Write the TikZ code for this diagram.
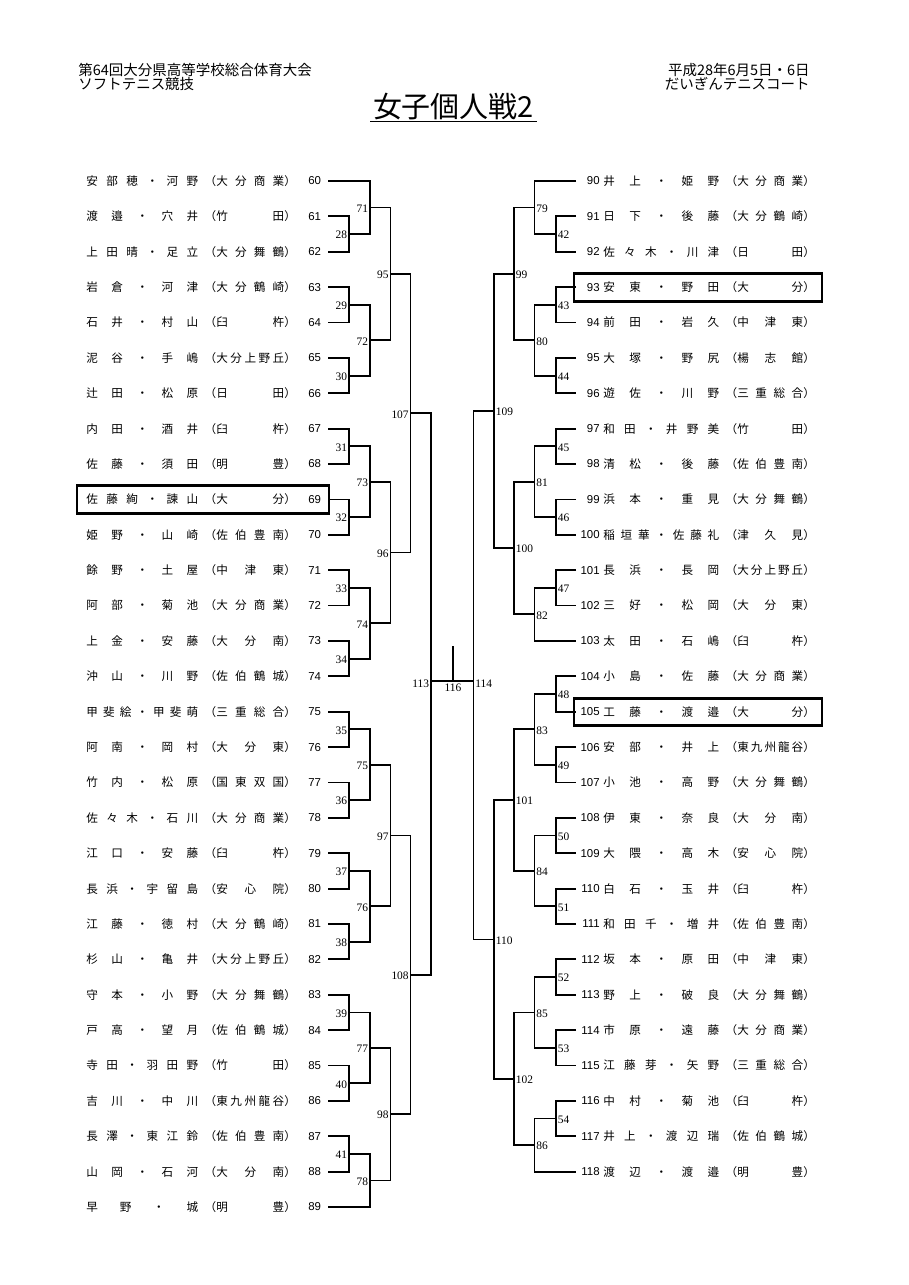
\documentclass[tikz,border=0pt]{standalone}
\usepackage{fontspec}
\setmainfont{Liberation Serif}
\setsansfont{Liberation Sans}
\newfontfamily\jpfont{Noto Sans CJK JP}
\usetikzlibrary{calc,positioning}

\newdimen\pxu \pxu=0.6556pt
% spread the characters of a name evenly over a box
\def\sprd#1{\expandafter\sprdA#1\sprdEnd}
\def\sprdA#1#2\sprdEnd{#1\ifx\relax#2\relax\else\hfill\sprdA#2\sprdEnd\fi}
\newcommand\plentry[4]{%
  \makebox[#3\pxu][s]{\sprd{#1}}\makebox[18\pxu][r]{（}%
  \makebox[#4\pxu][s]{\sprd{#2}}\makebox[11\pxu][l]{）}}

\tikzset{
    plyr/.style={font={\fontsize{7.6}{8}\selectfont\jpfont}, inner sep=0pt, anchor=west},
    pnum/.style={font={\fontsize{7.5}{8}\selectfont\sffamily}, inner sep=0pt},
    mlbl/.style={font={\fontsize{7.5}{8}\selectfont\rmfamily}, inner sep=1pt},
    hdr/.style={font={\fontsize{9.5}{10}\selectfont\jpfont}, inner sep=0pt},
    br/.style={line width=1.2pt},
    hbox/.style={line width=1.8pt},
}

\begin{document}
\begin{tikzpicture}[x=0.6556pt, y=0.6556pt,
    declare function={ry(\i)=-(181+35.38*\i);}]

\useasboundingbox[fill=white] (0,0) rectangle (908,-1285);

% Header
\node[hdr, anchor=west] (headL1) at (78,-70) {第64回大分県高等学校総合体育大会};
\node[hdr, anchor=west] (headL2) at (78,-84) {ソフトテニス競技};
\node[hdr, anchor=east] (headR1) at (810,-70) {平成28年6月5日・6日};
\node[hdr, anchor=east] (headR2) at (810,-84) {だいぎんテニスコート};

% Title
\node[font={\fontsize{19}{20}\selectfont\jpfont}, inner xsep=1.5pt, anchor=base] (title) at (453.5,-117) {女子個人戦2};
\draw[line width=1pt] ([yshift=-3pt]title.base west) -- ([yshift=-3pt]title.base east);

% Left players
\foreach \pn/\pname/\psch [count=\i from 0] in {
    60/安部穂・河野/大分商業, 61/渡邉・穴井/竹田, 62/上田晴・足立/大分舞鶴,
    63/岩倉・河津/大分鶴崎, 64/石井・村山/臼杵, 65/泥谷・手嶋/大分上野丘,
    66/辻田・松原/日田, 67/内田・酒井/臼杵, 68/佐藤・須田/明豊,
    69/佐藤絢・諫山/大分, 70/姫野・山崎/佐伯豊南, 71/餘野・土屋/中津東,
    72/阿部・菊池/大分商業, 73/上金・安藤/大分南, 74/沖山・川野/佐伯鶴城,
    75/甲斐絵・甲斐萌/三重総合, 76/阿南・岡村/大分東, 77/竹内・松原/国東双国,
    78/佐々木・石川/大分商業, 79/江口・安藤/臼杵, 80/長浜・宇留島/安心院,
    81/江藤・徳村/大分鶴崎, 82/杉山・亀井/大分上野丘, 83/守本・小野/大分舞鶴,
    84/戸高・望月/佐伯鶴城, 85/寺田・羽田野/竹田, 86/吉川・中川/東九州龍谷,
    87/長澤・東江鈴/佐伯豊南, 88/山岡・石河/大分南, 89/早野・城/明豊}{
    \node[plyr] (p\pn) at (86,{ry(\i)}) {\plentry{\pname}{\psch}{112}{68}};
    \node[pnum, anchor=west] (n\pn) at (308,{ry(\i)}) {\pn};
    \coordinate (e\pn) at (328,{ry(\i)});
}

% Right players
\foreach \pn/\pname/\psch [count=\i from 0] in {
    90/井上・姫野/大分商業, 91/日下・後藤/大分鶴崎, 92/佐々木・川津/日田,
    93/安東・野田/大分, 94/前田・岩久/中津東, 95/大塚・野尻/楊志館,
    96/遊佐・川野/三重総合, 97/和田・井野美/竹田, 98/清松・後藤/佐伯豊南,
    99/浜本・重見/大分舞鶴, 100/稲垣華・佐藤礼/津久見, 101/長浜・長岡/大分上野丘,
    102/三好・松岡/大分東, 103/太田・石嶋/臼杵, 104/小島・佐藤/大分商業,
    105/工藤・渡邉/大分, 106/安部・井上/東九州龍谷, 107/小池・高野/大分舞鶴,
    108/伊東・奈良/大分南, 109/大隈・高木/安心院, 110/白石・玉井/臼杵,
    111/和田千・増井/佐伯豊南, 112/坂本・原田/中津東, 113/野上・破良/大分舞鶴,
    114/市原・遠藤/大分商業, 115/江藤芽・矢野/三重総合, 116/中村・菊池/臼杵,
    117/井上・渡辺瑞/佐伯鶴城, 118/渡辺・渡邉/明豊}{
    \node[plyr] (p\pn) at (603,{ry(\i)}) {\plentry{\pname}{\psch}{116}{66}};
    \node[pnum, anchor=east] (n\pn) at (600,{ry(\i)}) {\pn};
    \coordinate (e\pn) at (576,{ry(\i)});
}

% Match points (left)
\foreach \m/\x/\r in {28/349/1.5, 29/349/3.5, 30/349/5.5, 31/349/7.5, 32/349/9.5,
    33/349/11.5, 34/349/13.5, 35/349/15.5, 36/349/17.5, 37/349/19.5, 38/349/21.5,
    39/349/23.5, 40/349/25.5, 41/349/27.5,
    71/370/0.75, 72/370/4.5, 73/370/8.5, 74/370/12.5, 75/370/16.5, 76/370/20.5,
    77/370/24.5, 78/370/28.25,
    95/390.5/2.625, 96/390.5/10.5, 97/390.5/18.5, 98/390.5/26.375,
    107/410.5/6.5625, 108/410.5/22.4375}
    \coordinate (m\m) at (\x,{ry(\r)});

% Match points (right)
\foreach \m/\x/\r in {42/556/1.5, 43/556/3.5, 44/556/5.5, 45/556/7.5, 46/556/9.5,
    47/556/11.5, 48/556/14.5, 49/556/16.5, 50/556/18.5, 51/556/20.5, 52/556/22.5,
    53/556/24.5, 54/556/26.5,
    79/534.5/0.75, 80/534.5/4.5, 81/534.5/8.5, 82/534.5/12.25, 83/534.5/15.5,
    84/534.5/19.5, 85/534.5/23.5, 86/534.5/27.25,
    99/514/2.625, 100/514/10.375, 101/514/17.5, 102/514/25.375,
    109/494/6.5, 110/494/21.4375}
    \coordinate (m\m) at (\x,{ry(\r)});

% Final
\coordinate (m113) at (431,-681);
\coordinate (m114) at (473.5,-681);
\coordinate (c116) at (453,-681);
\coordinate (t116) at (453,-646);

% Brackets
\foreach \m/\a/\b in {28/e61/e62, 29/e63/e64, 30/e65/e66, 31/e67/e68, 32/e69/e70,
    33/e71/e72, 34/e73/e74, 35/e75/e76, 36/e77/e78, 37/e79/e80, 38/e81/e82,
    39/e83/e84, 40/e85/e86, 41/e87/e88,
    71/e60/m28, 72/m29/m30, 73/m31/m32, 74/m33/m34, 75/m35/m36, 76/m37/m38,
    77/m39/m40, 78/m41/e89,
    95/m71/m72, 96/m73/m74, 97/m75/m76, 98/m77/m78,
    107/m95/m96, 108/m97/m98, 113/m107/m108,
    42/e91/e92, 43/e93/e94, 44/e95/e96, 45/e97/e98, 46/e99/e100, 47/e101/e102,
    48/e104/e105, 49/e106/e107, 50/e108/e109, 51/e110/e111, 52/e112/e113,
    53/e114/e115, 54/e116/e117,
    79/e90/m42, 80/m43/m44, 81/m45/m46, 82/m47/e103, 83/m48/m49, 84/m50/m51,
    85/m52/m53, 86/m54/e118,
    99/m79/m80, 100/m81/m82, 101/m83/m84, 102/m85/m86,
    109/m99/m100, 110/m101/m102, 114/m109/m110}
    \draw[br] (\a) -| (m\m) |- (\b);
\draw[br] (m113) -- (c116) -- (m114);
\draw[br] (c116) -- (t116);

% Match numbers
\foreach \m in {28,29,30,31,32,33,34,35,36,37,38,39,40,41,71,72,73,74,75,76,77,78,95,96,97,98,107,108}
    \node[mlbl, anchor=east] (l\m) at ([yshift=-0.7pt]m\m) {\m};
\foreach \m in {42,43,44,45,46,47,48,49,50,51,52,53,54,79,80,81,82,83,84,85,86,99,100,101,102,109,110}
    \node[mlbl, anchor=west] (l\m) at ([yshift=-0.7pt]m\m) {\m};
\node[mlbl, anchor=east] (l113) at ([yshift=-2pt]m113) {113};
\node[mlbl, anchor=west] (l114) at ([yshift=-2pt]m114) {114};
\node[mlbl, below=1pt of c116] (l116) {116};

% Highlighted pairs
\draw[hbox] (77,{ry(9)+14}) rectangle (329,{ry(9)-14});
\draw[hbox] (574,{ry(3)+14}) rectangle (822,{ry(3)-14});
\draw[hbox] (574,{ry(15)+13.5}) rectangle (822,{ry(15)-13.5});

\end{tikzpicture}
\end{document}
